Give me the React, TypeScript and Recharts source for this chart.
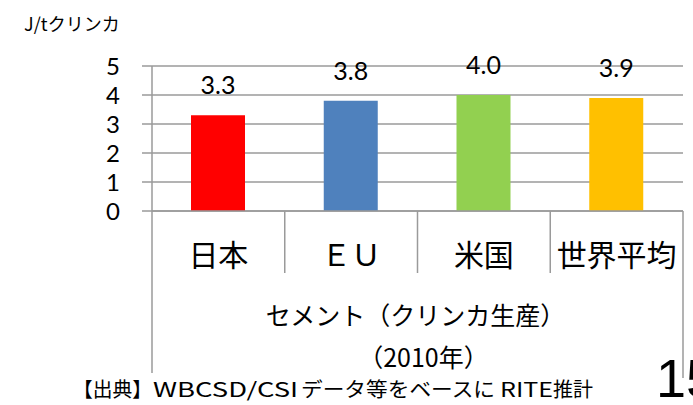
import { Bar, BarChart, CartesianGrid, Cell, Label, LabelList, XAxis, YAxis } from "recharts";

const categories = ["日本", "ＥＵ", "米国", "世界平均"];
const values = [3.3, 3.8, 4.0, 3.9];
const colors = ["#FF0000", "#4F81BD", "#92D050", "#FFC000"];
const yTicks = [0, 1, 2, 3, 4, 5];

// source note, split so the wide latin runs can be stretched like the original
const noteParts = ["【出典】", "WBCSD/CSI", "データ等をベースに", "RITE", "推計"];
const noteX = [73, 153, 301, 500, 553];
const noteW = [79, 145, 194, 53, 40];

const data = categories.map((name, i) => ({ name, value: values[i], color: colors[i] }));

const GRID = "#9a9a9a";
const JP = "'Noto Sans CJK JP', sans-serif";
const NUM = "Lato, 'Open Sans', sans-serif";

function CategoryTick(props: any) {
  const { x, y, width, index, visibleTicksCount, payload } = props;
  const band = width / visibleTicksCount;
  const last = index === visibleTicksCount - 1;
  return (
    <g>
      {index === 0 && (
        <line x1={x - band / 2} x2={x - band / 2} y1={y} y2={y + 162} stroke={GRID} strokeWidth={1.5} />
      )}
      <line x1={x + band / 2} x2={x + band / 2} y1={y} y2={y + (last ? 167 : 62)} stroke={GRID} strokeWidth={1.5} />
      <text x={x} y={y + 55} textAnchor="middle" fontSize={30} fontFamily={JP} fill="#000">
        {payload.value}
      </text>
    </g>
  );
}

function AxisTitle(props: any) {
  const { viewBox } = props;
  const cx = viewBox.x + viewBox.width / 2;
  return (
    <g>
      <text x={cx - 2} y={viewBox.y + 114} textAnchor="middle" fontSize={25} fontFamily={JP} fill="#000">
        セメント（クリンカ生産）
      </text>
      <text x={cx + 6} y={viewBox.y + 156} textAnchor="middle" fontSize={25} fontFamily={JP} fill="#000">
        （2010年）
      </text>
    </g>
  );
}

export default function App() {
  return (
    <div style={{ position: "absolute", left: 0, top: 0, width: 693, height: 405, background: "#fff", overflow: "hidden" }}>
      <div style={{ position: "absolute", left: 24, top: 10, fontSize: 18, fontFamily: JP, color: "#000", whiteSpace: "nowrap" }}>
        J/tクリンカ
      </div>
      <BarChart width={693} height={405} data={data} margin={{ top: 66, right: 10, bottom: 0, left: 0 }} barSize={54}>
        <CartesianGrid vertical={false} stroke={GRID} strokeWidth={1.5} />
        <XAxis
          dataKey="name"
          height={194}
          interval={0}
          tickSize={0}
          tickMargin={0}
          tickLine={false}
          axisLine={{ stroke: GRID, strokeWidth: 1.5 }}
          tick={<CategoryTick />}
        >
          <Label content={<AxisTitle />} />
        </XAxis>
        <YAxis
          width={152}
          domain={[0, 5]}
          ticks={yTicks}
          interval={0}
          tickSize={10}
          tickMargin={22}
          axisLine={{ stroke: GRID, strokeWidth: 1.5 }}
          tickLine={{ stroke: GRID, strokeWidth: 1.5 }}
          tick={{ fontSize: 24, fontFamily: NUM, fill: "#000" }}
        />
        <Bar dataKey="value" isAnimationActive={false}>
          {data.map((d) => (
            <Cell key={d.name} fill={d.color} />
          ))}
          <LabelList
            dataKey="value"
            position="top"
            offset={21}
            formatter={(v: any) => Number(v).toFixed(1)}
            style={{ fontSize: 25, fontFamily: NUM, fill: "#000" }}
          />
        </Bar>
      </BarChart>
      <svg width={693} height={405} style={{ position: "absolute", left: 0, top: 0, pointerEvents: "none" }}>
        {noteParts.map((t, i) => (
          <text
            key={t}
            x={noteX[i]}
            y={397}
            fontSize={20}
            fontFamily={JP}
            fill="#000"
            textLength={noteW[i]}
            lengthAdjust="spacingAndGlyphs"
          >
            {t}
          </text>
        ))}
        <text x={656} y={397} fontSize={54} fontFamily="'Liberation Sans', Arial, sans-serif" fill="#000">
          15
        </text>
      </svg>
    </div>
  );
}
